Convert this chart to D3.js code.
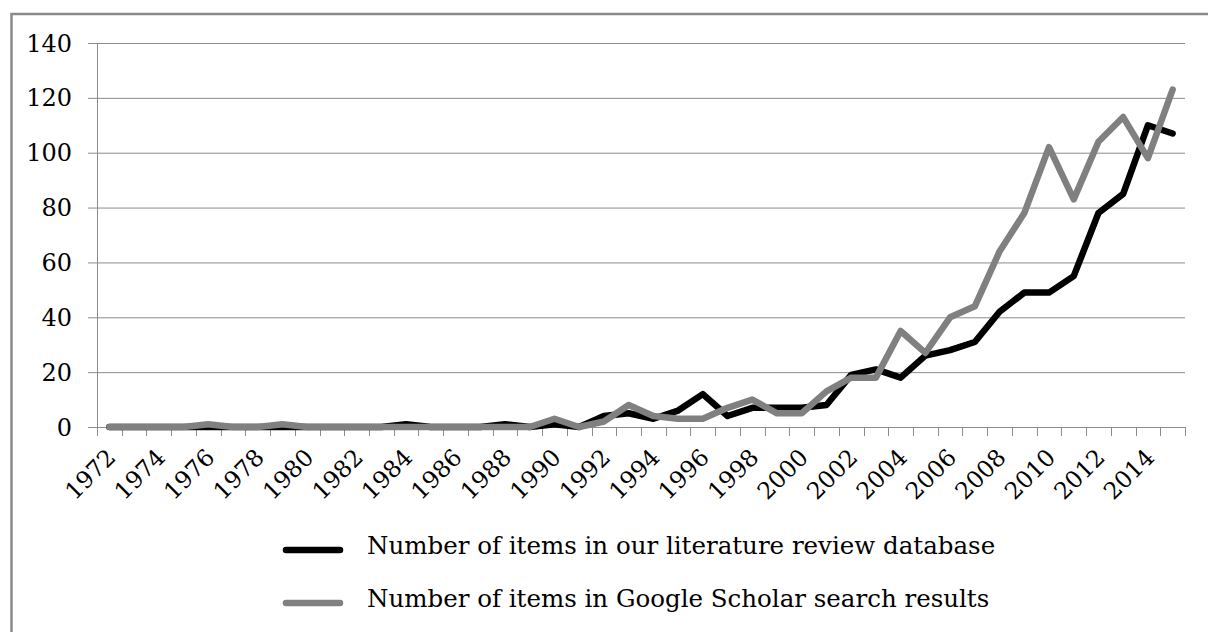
<!DOCTYPE html>
<html>
<head>
<meta charset="utf-8">
<script src="https://cdn.jsdelivr.net/npm/d3@7"></script>
<style>
  body { margin: 0; background: #fff; }
  svg text { font-family: "DejaVu Serif", "Liberation Serif", serif; fill: #000; }
</style>
</head>
<body>
<div id="grafico"></div>
<script>
// Datos: años y numero de items por serie
const years = d3.range(1972, 2016);
const dbItems = [0, 0, 0, 0, 0, 0, 0, 0, 0, 0, 0, 0, 1, 0, 0, 0, 1, 0, 1, 0,
  4, 5, 3, 6, 12, 4, 7, 7, 7, 8, 19, 21, 18, 26, 28, 31, 42, 49, 49, 55, 78, 85, 110, 107];
const scholarItems = [0, 0, 0, 0, 1, 0, 0, 1, 0, 0, 0, 0, 0, 0, 0, 0, 0, 0, 3, 0,
  2, 8, 4, 3, 3, 7, 10, 5, 5, 13, 18, 18, 35, 27, 40, 44, 64, 78, 102, 83, 104, 113, 98, 123];
const yTicks = [0, 20, 40, 60, 80, 100, 120, 140];
const seriesNames = [
  "Number of items in our literature review database",
  "Number of items in Google Scholar search results",
];

const width = 1208, height = 632;
const margin = { top: 43, right: 23, bottom: 205, left: 97 };

const svg = d3
  .select("#grafico")
  .append("svg")
  .attr("width", width)
  .attr("height", height);

// Marco gris exterior (se sale por la derecha y por abajo)
svg
  .append("rect")
  .attr("x", 11.5)
  .attr("y", 14)
  .attr("width", 1300)
  .attr("height", 700)
  .attr("fill", "none")
  .attr("stroke", "#8a8a8a")
  .attr("stroke-width", 2.5);

// Escalas
var x = d3.scaleBand().domain(years).range([margin.left, width - margin.right]);
var y = d3.scaleLinear().domain([0, 140]).range([427, margin.top]);

const gridColor = "#8c8c8c";

// Lineas de la rejilla horizontal y ticks del eje Y
svg
  .append("g")
  .selectAll("line")
  .data(yTicks)
  .enter()
  .append("line")
  .attr("x1", margin.left - 9)
  .attr("x2", x.range()[1])
  .attr("y1", (d) => y(d) + 0.5)
  .attr("y2", (d) => y(d) + 0.5)
  .style("stroke", gridColor)
  .style("stroke-width", "1px");

svg
  .append("g")
  .selectAll("text")
  .data(yTicks)
  .enter()
  .append("text")
  .attr("x", 72)
  .attr("y", (d) => y(d))
  .attr("dy", ".36em")
  .attr("text-anchor", "end")
  .style("font-size", "24px")
  .text((d) => d);

// Eje vertical
svg
  .append("line")
  .attr("x1", margin.left + 0.5)
  .attr("x2", margin.left + 0.5)
  .attr("y1", y(140))
  .attr("y2", y(0))
  .style("stroke", gridColor)
  .style("stroke-width", "1px");

// Ticks del eje X entre categorias
const bounds = years.map((d) => x(d)).concat([x.range()[1]]);
svg
  .append("g")
  .selectAll("line")
  .data(bounds)
  .enter()
  .append("line")
  .attr("x1", (d) => Math.round(d) + 0.5)
  .attr("x2", (d) => Math.round(d) + 0.5)
  .attr("y1", y(0))
  .attr("y2", y(0) + 9)
  .style("stroke", gridColor)
  .style("stroke-width", "1px");

// Etiquetas de años (una de cada dos), giradas -45 grados
svg
  .append("g")
  .selectAll("text")
  .data(years.filter((d, i) => i % 2 === 0))
  .enter()
  .append("text")
  .attr("transform", (d) =>
    "translate(" + (x(d) + x.bandwidth() / 2 + 2) + "," + (y(0) + 26) + ") rotate(-45)")
  .attr("text-anchor", "end")
  .attr("dy", ".35em")
  .style("font-size", "23.5px")
  .text((d) => d);

// Series
const line = d3
  .line()
  .x((d, i) => x(years[i]) + x.bandwidth() / 2)
  .y((d) => y(d));

const series = [
  { values: dbItems, color: "#000000" },
  { values: scholarItems, color: "#808080" },
];

svg
  .append("g")
  .selectAll("path")
  .data(series)
  .enter()
  .append("path")
  .attr("d", (d) => line(d.values))
  .attr("fill", "none")
  .attr("stroke", (d) => d.color)
  .attr("stroke-width", 6.5)
  .attr("stroke-linejoin", "round")
  .attr("stroke-linecap", "round");

// Leyenda
const legend = svg
  .append("g")
  .selectAll("g")
  .data(series)
  .enter()
  .append("g")
  .attr("transform", (d, i) => "translate(0," + (550 + i * 53) + ")");

legend
  .append("line")
  .attr("x1", 286)
  .attr("x2", 340)
  .attr("stroke", (d) => d.color)
  .attr("stroke-width", 6.5)
  .attr("stroke-linecap", "round");

legend
  .append("text")
  .attr("x", 367)
  .attr("y", 4)
  .style("font-size", "24.5px")
  .text((d, i) => seriesNames[i]);
</script>
</body>
</html>
